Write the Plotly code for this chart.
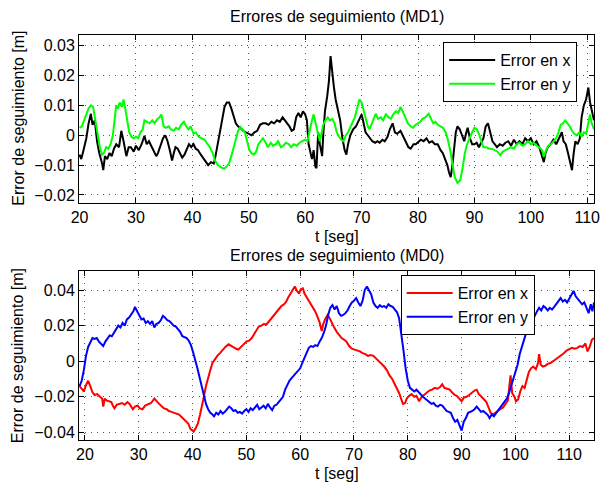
import plotly.graph_objects as go

# ---------------- MD1 tracking errors (top panel) ----------------
t_md1_x = [20.0, 20.3, 20.7, 21.2, 21.6, 22.0, 22.3, 22.7, 23.1, 23.5, 24.0, 24.2, 24.5, 24.9, 25.3, 25.7,
           26.1, 26.5, 27.0, 27.4, 27.8, 28.3, 28.7, 29.1, 29.6, 30.0, 30.5, 31.0, 31.5, 31.9, 32.3, 32.8,
           33.2, 33.6, 33.9, 34.4, 34.8, 35.2, 35.6, 36.0, 36.4, 36.7, 37.0, 37.4, 37.8, 38.2, 38.6, 39.0,
           39.4, 39.8, 40.2, 40.6, 41.0, 41.5, 42.0, 42.4, 42.8, 43.3, 43.8, 44.1, 44.5, 44.9, 45.3, 45.7,
           46.1, 46.5, 46.9, 47.3, 47.7, 48.1, 48.5, 49.0, 49.5, 50.0, 50.5, 51.0, 51.5, 52.0, 52.5, 53.0,
           53.5, 54.0, 54.5, 55.0, 55.5, 56.0, 56.4, 56.8, 57.2, 57.6, 58.0, 58.4, 58.8, 59.2, 59.6, 60.0,
           60.3, 60.6, 60.9, 61.2, 61.5, 61.8, 62.0, 62.3, 62.6, 63.0, 63.2, 63.5, 63.9, 64.2, 64.5, 64.8,
           65.1, 65.4, 65.8, 66.2, 66.6, 67.0, 67.3, 67.6, 68.0, 68.5, 69.0, 69.5, 70.0, 70.3, 70.7, 71.1,
           71.5, 71.9, 72.4, 72.8, 73.2, 73.7, 74.1, 74.6, 75.0, 75.5, 75.9, 76.3, 76.9, 77.4, 77.8, 78.3,
           78.7, 79.2, 79.6, 80.1, 80.5, 81.0, 81.5, 82.0, 82.5, 83.0, 83.5, 84.0, 84.4, 84.8, 85.2, 85.5,
           85.8, 86.1, 86.4, 86.7, 87.0, 87.4, 87.8, 88.2, 88.5, 88.8, 89.2, 89.6, 90.0, 90.4, 90.8, 91.2,
           91.6, 92.0, 92.4, 92.8, 93.2, 93.6, 94.0, 94.5, 95.0, 95.5, 96.0, 96.5, 97.0, 97.5, 98.0, 98.5,
           99.0, 99.5, 100.0, 100.5, 101.0, 101.5, 102.0, 102.3, 102.6, 103.0, 103.5, 104.0, 104.5, 105.0,
           105.5, 105.8, 106.2, 106.6, 107.0, 107.3, 107.6, 107.9, 108.3, 108.7, 109.0, 109.4, 109.8, 110.2,
           110.5, 110.8, 111.2]
e_md1_x = [-0.0065, -0.0080, -0.0050, -0.0010, 0.0040, 0.0072, 0.0035, 0.0050, -0.0020, -0.0060, -0.0095,
           -0.0117, -0.0070, -0.0080, -0.0060, -0.0070, -0.0045, -0.0030, -0.0040, 0.0015, -0.0020, -0.0070,
           -0.0040, -0.0040, -0.0055, -0.0035, -0.0050, -0.0030, -0.0002, -0.0030, -0.0020, -0.0040, -0.0055,
           -0.0070, -0.0060, -0.0030, -0.0010, 0.0000, -0.0020, -0.0050, -0.0085, -0.0060, -0.0040, -0.0045,
           -0.0060, -0.0075, -0.0065, -0.0045, -0.0030, -0.0040, -0.0030, -0.0045, -0.0050, -0.0065, -0.0080,
           -0.0090, -0.0100, -0.0090, -0.0095, -0.0070, -0.0030, 0.0020, 0.0060, 0.0095, 0.0110, 0.0110,
           0.0090, 0.0060, 0.0040, 0.0030, 0.0025, 0.0015, 0.0010, 0.0005, 0.0000, 0.0010, 0.0015, 0.0035,
           0.0040, 0.0040, 0.0035, 0.0045, 0.0040, 0.0050, 0.0045, 0.0060, 0.0050, 0.0040, 0.0030, 0.0015,
           0.0020, 0.0060, 0.0075, 0.0060, 0.0080, 0.0070, 0.0050, -0.0030, -0.0060, -0.0080, -0.0050,
           -0.0105, -0.0110, 0.0010, -0.0030, -0.0070, 0.0000, 0.0080, 0.0130, 0.0180, 0.0265, 0.0200,
           0.0160, 0.0120, 0.0080, 0.0050, -0.0010, -0.0050, -0.0065, -0.0030, 0.0000, 0.0020, 0.0030,
           0.0050, 0.0070, 0.0045, 0.0010, 0.0000, -0.0010, -0.0020, -0.0025, -0.0020, -0.0025, -0.0015,
           -0.0020, -0.0005, 0.0020, 0.0040, 0.0010, 0.0005, 0.0015, -0.0005, -0.0020, -0.0040, -0.0045,
           -0.0030, -0.0030, -0.0020, -0.0015, -0.0020, -0.0010, -0.0025, -0.0020, -0.0030, -0.0030, -0.0050,
           -0.0060, -0.0080, -0.0100, -0.0125, -0.0140, -0.0100, -0.0050, 0.0010, 0.0030, 0.0020, 0.0000,
           -0.0020, 0.0005, 0.0025, -0.0010, -0.0030, -0.0030, -0.0025, -0.0040, -0.0025, -0.0010, 0.0030,
           0.0040, 0.0010, -0.0020, -0.0030, -0.0040, -0.0030, -0.0035, -0.0025, -0.0020, -0.0035, -0.0015,
           -0.0030, -0.0020, -0.0030, -0.0010, -0.0020, -0.0010, -0.0030, -0.0020, -0.0040, -0.0070, -0.0090,
           -0.0060, -0.0040, -0.0030, -0.0015, -0.0030, -0.0010, 0.0010, -0.0020, -0.0030, -0.0060, -0.0090,
           -0.0117, -0.0060, -0.0020, -0.0030, -0.0010, 0.0060, 0.0100, 0.0120, 0.0160, 0.0110, 0.0080, 0.0050]

t_md1_y = [20.0, 20.4, 20.8, 21.2, 21.6, 22.0, 22.4, 22.8, 23.2, 23.6, 24.0, 24.3, 24.7, 25.1, 25.5, 25.9,
           26.2, 26.5, 26.8, 27.1, 27.5, 27.8, 28.1, 28.4, 28.8, 29.2, 29.6, 30.0, 30.4, 30.8, 31.2, 31.5,
           32.0, 32.4, 32.9, 33.3, 33.8, 34.2, 34.5, 34.9, 35.3, 35.8, 36.2, 36.7, 37.1, 37.6, 38.0, 38.5,
           38.9, 39.3, 39.7, 40.2, 40.6, 41.1, 41.6, 42.2, 42.7, 43.1, 43.6, 44.0, 44.5, 44.9, 45.3, 45.7,
           46.1, 46.5, 46.9, 47.3, 47.7, 48.1, 48.5, 48.9, 49.3, 49.7, 50.1, 50.5, 50.9, 51.3, 51.7, 52.1,
           52.5, 53.0, 53.4, 53.9, 54.3, 54.8, 55.2, 55.7, 56.1, 56.6, 57.1, 57.5, 58.0, 58.5, 59.0, 59.5,
           60.0, 60.4, 60.8, 61.2, 61.5, 61.9, 62.2, 62.6, 62.9, 63.2, 63.6, 64.0, 64.4, 64.8, 65.2, 65.6,
           66.0, 66.4, 66.8, 67.2, 67.6, 68.0, 68.4, 68.8, 69.2, 69.6, 70.0, 70.4, 70.8, 71.1, 71.4, 71.8,
           72.2, 72.5, 72.9, 73.4, 73.8, 74.3, 74.8, 75.2, 75.6, 76.1, 76.5, 76.9, 77.3, 77.8, 78.2, 78.7,
           79.1, 79.6, 80.0, 80.4, 80.8, 81.3, 81.9, 82.3, 82.7, 83.1, 83.5, 84.0, 84.4, 84.9, 85.3, 85.7,
           86.1, 86.5, 87.0, 87.5, 87.9, 88.3, 88.7, 89.1, 89.6, 90.0, 90.4, 90.8, 91.2, 91.6, 92.1, 92.6,
           93.1, 93.6, 94.1, 94.6, 95.0, 95.5, 96.0, 96.5, 97.0, 97.5, 98.0, 98.5, 99.0, 99.5, 100.0, 100.5,
           101.0, 101.5, 102.0, 102.3, 102.7, 103.1, 103.6, 104.0, 104.5, 104.9, 105.3, 105.7, 106.1, 106.5,
           106.9, 107.3, 107.7, 108.1, 108.6, 109.0, 109.4, 109.8, 110.2, 110.5, 110.8, 111.2]
e_md1_y = [0.0025, 0.0030, 0.0050, 0.0070, 0.0090, 0.0100, 0.0095, 0.0050, 0.0000, -0.0040, -0.0065,
           -0.0060, -0.0040, -0.0045, -0.0030, 0.0000, 0.0050, 0.0100, 0.0090, 0.0110, 0.0095, 0.0120,
           0.0090, 0.0050, 0.0010, -0.0005, -0.0010, -0.0005, -0.0010, 0.0010, 0.0020, 0.0050, 0.0045,
           0.0040, 0.0050, 0.0040, 0.0055, 0.0060, 0.0070, 0.0030, 0.0025, 0.0030, 0.0020, 0.0015, 0.0025,
           0.0020, 0.0035, 0.0045, 0.0030, 0.0020, 0.0030, 0.0005, 0.0010, -0.0005, -0.0010, -0.0015,
           -0.0030, -0.0040, -0.0060, -0.0085, -0.0100, -0.0105, -0.0110, -0.0112, -0.0105, -0.0095,
           -0.0070, -0.0040, -0.0010, 0.0015, 0.0028, 0.0020, 0.0010, -0.0020, -0.0050, -0.0060, -0.0065,
           -0.0055, -0.0030, -0.0020, -0.0010, -0.0025, -0.0040, -0.0025, -0.0035, -0.0030, -0.0020,
           -0.0040, -0.0035, -0.0025, -0.0030, -0.0040, -0.0030, -0.0035, -0.0025, -0.0020, -0.0015,
           -0.0020, 0.0020, 0.0050, 0.0070, 0.0030, 0.0010, -0.0020, 0.0010, 0.0035, 0.0050, 0.0060,
           0.0050, 0.0055, 0.0040, 0.0010, -0.0005, -0.0015, -0.0020, 0.0000, 0.0010, 0.0025, 0.0045,
           0.0060, 0.0090, 0.0120, 0.0110, 0.0080, 0.0055, 0.0030, 0.0020, 0.0040, 0.0060, 0.0072, 0.0055,
           0.0060, 0.0050, 0.0070, 0.0060, 0.0055, 0.0070, 0.0080, 0.0075, 0.0095, 0.0080, 0.0055, 0.0040,
           0.0030, 0.0025, 0.0035, 0.0040, 0.0045, 0.0055, 0.0060, 0.0072, 0.0055, 0.0040, 0.0045, 0.0035,
           0.0030, 0.0025, 0.0010, -0.0015, -0.0050, -0.0090, -0.0140, -0.0160, -0.0150, -0.0110, -0.0060,
           -0.0030, -0.0010, 0.0010, 0.0025, 0.0020, 0.0005, -0.0020, -0.0040, -0.0040, -0.0045, -0.0045,
           -0.0050, -0.0055, -0.0067, -0.0055, -0.0050, -0.0045, -0.0040, -0.0045, -0.0030, -0.0025,
           -0.0035, -0.0030, -0.0020, -0.0030, -0.0025, -0.0035, -0.0040, -0.0050, -0.0072, -0.0050,
           -0.0035, -0.0030, -0.0020, -0.0010, 0.0010, 0.0035, 0.0040, 0.0050, 0.0040, 0.0030, 0.0015,
           0.0005, 0.0000, 0.0010, -0.0005, 0.0010, 0.0005, 0.0040, 0.0070, 0.0040, 0.0020]

# ---------------- MD0 tracking errors (bottom panel) ----------------
t_md0_x = [19.0, 19.4, 19.8, 20.2, 20.6, 21.0, 21.4, 21.8, 22.3, 22.8, 23.2, 23.4, 23.7, 24.0, 24.4, 24.9,
           25.2, 25.5, 25.9, 26.4, 26.9, 27.4, 27.9, 28.3, 28.9, 29.3, 29.8, 30.2, 30.7, 31.2, 31.7, 32.3,
           32.9, 33.3, 33.8, 34.3, 34.7, 35.2, 35.6, 36.1, 36.6, 37.0, 37.5, 38.0, 38.4, 38.8, 39.2, 39.6,
           39.9, 40.2, 40.6, 41.0, 41.4, 41.8, 42.1, 42.5, 42.9, 43.3, 43.7, 44.1, 44.6, 45.1, 45.6, 46.1,
           46.7, 47.2, 47.6, 48.1, 48.5, 49.0, 49.5, 50.0, 50.5, 51.0, 51.4, 51.9, 52.3, 52.8, 53.3, 53.7,
           54.2, 54.7, 55.1, 55.6, 56.0, 56.5, 57.0, 57.4, 57.8, 58.2, 58.6, 59.0, 59.4, 59.8, 60.1, 60.5,
           60.8, 61.2, 61.6, 62.0, 62.4, 62.8, 63.2, 63.6, 64.0, 64.3, 64.7, 65.1, 65.5, 65.9, 66.3, 66.8,
           67.2, 67.7, 68.2, 68.6, 69.1, 69.6, 70.1, 70.6, 71.1, 71.6, 72.1, 72.6, 73.1, 73.6, 74.1, 74.6,
           75.1, 75.6, 76.1, 76.6, 77.1, 77.6, 78.0, 78.4, 78.8, 79.1, 79.5, 79.8, 80.2, 80.7, 81.2, 81.6,
           82.1, 82.6, 83.0, 83.5, 84.0, 84.5, 85.0, 85.5, 86.0, 86.4, 86.8, 87.3, 87.8, 88.2, 88.7, 89.1,
           89.6, 90.0, 90.4, 90.9, 91.4, 91.9, 92.4, 92.8, 93.2, 93.7, 94.2, 94.6, 95.0, 95.4, 95.8, 96.2,
           96.7, 97.2, 97.7, 98.2, 98.6, 98.9, 99.1, 99.4, 99.8, 100.1, 100.5, 100.9, 101.3, 101.7, 102.1,
           102.5, 102.9, 103.3, 103.8, 104.2, 104.4, 104.7, 105.1, 105.6, 106.0, 106.5, 107.0, 107.5, 108.0,
           108.5, 109.0, 109.5, 110.0, 110.5, 111.0, 111.5, 112.0, 112.5, 113.0, 113.4, 113.8, 114.2, 114.6]
e_md0_x = [-0.0140, -0.0155, -0.0170, -0.0135, -0.0110, -0.0140, -0.0175, -0.0190, -0.0185, -0.0200,
           -0.0210, -0.0255, -0.0210, -0.0220, -0.0225, -0.0230, -0.0250, -0.0265, -0.0245, -0.0240,
           -0.0235, -0.0245, -0.0230, -0.0240, -0.0270, -0.0255, -0.0250, -0.0265, -0.0270, -0.0250,
           -0.0245, -0.0235, -0.0210, -0.0225, -0.0240, -0.0255, -0.0265, -0.0270, -0.0280, -0.0285,
           -0.0290, -0.0295, -0.0300, -0.0315, -0.0325, -0.0340, -0.0350, -0.0380, -0.0390, -0.0395,
           -0.0375, -0.0350, -0.0300, -0.0250, -0.0200, -0.0140, -0.0090, -0.0050, -0.0010, 0.0010,
           0.0030, 0.0045, 0.0065, 0.0080, 0.0095, 0.0085, 0.0080, 0.0070, 0.0065, 0.0080, 0.0100,
           0.0110, 0.0115, 0.0130, 0.0150, 0.0180, 0.0195, 0.0200, 0.0210, 0.0205, 0.0225, 0.0240,
           0.0255, 0.0275, 0.0295, 0.0310, 0.0320, 0.0335, 0.0360, 0.0380, 0.0395, 0.0420, 0.0395,
           0.0380, 0.0405, 0.0410, 0.0380, 0.0360, 0.0345, 0.0320, 0.0300, 0.0280, 0.0250, 0.0220,
           0.0170, 0.0210, 0.0240, 0.0260, 0.0240, 0.0210, 0.0190, 0.0165, 0.0150, 0.0130, 0.0120,
           0.0110, 0.0085, 0.0070, 0.0065, 0.0060, 0.0055, 0.0045, 0.0040, 0.0030, 0.0035, 0.0030,
           0.0015, 0.0000, -0.0010, -0.0030, -0.0050, -0.0080, -0.0100, -0.0130, -0.0160, -0.0180,
           -0.0215, -0.0240, -0.0235, -0.0210, -0.0195, -0.0185, -0.0200, -0.0195, -0.0225, -0.0200,
           -0.0190, -0.0175, -0.0165, -0.0160, -0.0150, -0.0155, -0.0145, -0.0130, -0.0150, -0.0155,
           -0.0160, -0.0175, -0.0190, -0.0195, -0.0210, -0.0225, -0.0205, -0.0200, -0.0190, -0.0175,
           -0.0165, -0.0160, -0.0185, -0.0200, -0.0215, -0.0230, -0.0260, -0.0290, -0.0300, -0.0290,
           -0.0280, -0.0270, -0.0260, -0.0240, -0.0220, -0.0130, -0.0080, -0.0180, -0.0200, -0.0225,
           -0.0215, -0.0170, -0.0140, -0.0150, -0.0100, -0.0060, -0.0040, -0.0030, -0.0045, -0.0010,
           0.0040, -0.0020, -0.0030, -0.0025, -0.0015, -0.0010, 0.0000, 0.0010, 0.0020, 0.0030, 0.0045,
           0.0060, 0.0070, 0.0075, 0.0070, 0.0075, 0.0085, 0.0080, 0.0100, 0.0055, 0.0080, 0.0120, 0.0130]

t_md0_y = [19.0, 19.4, 19.8, 20.2, 20.6, 21.0, 21.4, 21.8, 22.2, 22.6, 23.0, 23.4, 23.8, 24.2, 24.6, 25.0,
           25.4, 25.8, 26.2, 26.6, 27.0, 27.4, 27.8, 28.2, 28.6, 29.0, 29.3, 29.7, 30.1, 30.5, 30.9, 31.3,
           31.7, 32.1, 32.5, 32.9, 33.3, 33.7, 34.1, 34.5, 34.9, 35.3, 35.7, 36.1, 36.5, 36.9, 37.3, 37.7,
           38.1, 38.5, 38.9, 39.3, 39.7, 40.1, 40.5, 40.9, 41.3, 41.7, 42.1, 42.5, 42.9, 43.3, 43.7, 44.0,
           44.4, 44.8, 45.2, 45.6, 46.0, 46.4, 46.8, 47.2, 47.6, 48.0, 48.4, 48.8, 49.2, 49.6, 50.0, 50.4,
           50.8, 51.2, 51.6, 52.0, 52.4, 52.8, 53.2, 53.6, 54.0, 54.4, 54.8, 55.2, 55.6, 56.0, 56.4, 56.8,
           57.2, 57.6, 58.0, 58.4, 58.8, 59.2, 59.6, 60.0, 60.4, 60.8, 61.2, 61.6, 62.0, 62.4, 62.8, 63.2,
           63.6, 64.0, 64.4, 64.8, 65.2, 65.6, 66.0, 66.4, 66.8, 67.2, 67.6, 68.0, 68.4, 68.8, 69.2, 69.6,
           70.0, 70.4, 70.8, 71.2, 71.6, 72.0, 72.4, 72.8, 73.2, 73.6, 74.0, 74.4, 74.8, 75.2, 75.6, 76.0,
           76.4, 76.8, 77.2, 77.6, 78.0, 78.4, 78.8, 79.2, 79.6, 80.0, 80.4, 80.8, 81.2, 81.6, 82.0, 82.4,
           82.8, 83.2, 83.6, 84.0, 84.4, 84.8, 85.2, 85.6, 86.0, 86.4, 86.8, 87.2, 87.6, 88.0, 88.4, 88.8,
           89.2, 89.6, 90.0, 90.4, 90.8, 91.2, 91.6, 92.0, 92.4, 92.8, 93.2, 93.6, 94.0, 94.4, 94.8, 95.2,
           95.6, 96.0, 96.4, 96.8, 97.2, 97.6, 98.0, 98.4, 98.8, 99.2, 99.6, 100.0, 100.4, 100.8, 101.2,
           101.6, 102.0, 102.4, 102.8, 103.2, 103.6, 104.0, 104.4, 104.8, 105.2, 105.6, 106.0, 106.4, 106.8,
           107.2, 107.6, 108.0, 108.4, 108.8, 109.2, 109.6, 110.0, 110.4, 110.8, 111.2, 111.6, 112.0, 112.4,
           112.8, 113.2, 113.6, 114.0, 114.3, 114.6]
e_md0_y = [-0.0140, -0.0110, -0.0050, 0.0030, 0.0080, 0.0110, 0.0130, 0.0125, 0.0130, 0.0110, 0.0095,
           0.0085, 0.0110, 0.0130, 0.0145, 0.0140, 0.0160, 0.0175, 0.0200, 0.0190, 0.0215, 0.0200, 0.0235,
           0.0245, 0.0265, 0.0280, 0.0305, 0.0280, 0.0260, 0.0235, 0.0240, 0.0215, 0.0225, 0.0210, 0.0225,
           0.0190, 0.0210, 0.0215, 0.0230, 0.0255, 0.0245, 0.0230, 0.0225, 0.0210, 0.0200, 0.0195, 0.0180,
           0.0165, 0.0140, 0.0135, 0.0130, 0.0115, 0.0090, 0.0050, 0.0010, -0.0040, -0.0090, -0.0140,
           -0.0190, -0.0240, -0.0270, -0.0290, -0.0300, -0.0310, -0.0290, -0.0300, -0.0280, -0.0295,
           -0.0285, -0.0270, -0.0255, -0.0265, -0.0280, -0.0275, -0.0290, -0.0285, -0.0295, -0.0280,
           -0.0270, -0.0285, -0.0265, -0.0275, -0.0260, -0.0245, -0.0270, -0.0260, -0.0250, -0.0265,
           -0.0240, -0.0260, -0.0275, -0.0250, -0.0245, -0.0230, -0.0215, -0.0200, -0.0160, -0.0130,
           -0.0110, -0.0095, -0.0080, -0.0070, -0.0050, -0.0040, -0.0010, 0.0020, 0.0050, 0.0075, 0.0085,
           0.0080, 0.0090, 0.0085, 0.0110, 0.0130, 0.0160, 0.0200, 0.0260, 0.0300, 0.0315, 0.0290, 0.0310,
           0.0270, 0.0255, 0.0260, 0.0270, 0.0285, 0.0310, 0.0330, 0.0340, 0.0355, 0.0330, 0.0310, 0.0340,
           0.0400, 0.0420, 0.0395, 0.0375, 0.0330, 0.0310, 0.0300, 0.0315, 0.0305, 0.0310, 0.0300, 0.0320,
           0.0310, 0.0305, 0.0290, 0.0275, 0.0240, 0.0160, 0.0060, -0.0040, -0.0110, -0.0150, -0.0160,
           -0.0170, -0.0160, -0.0175, -0.0185, -0.0200, -0.0210, -0.0220, -0.0225, -0.0240, -0.0235,
           -0.0250, -0.0255, -0.0245, -0.0250, -0.0265, -0.0280, -0.0285, -0.0290, -0.0320, -0.0340,
           -0.0330, -0.0360, -0.0390, -0.0340, -0.0320, -0.0290, -0.0285, -0.0280, -0.0270, -0.0255,
           -0.0270, -0.0285, -0.0280, -0.0290, -0.0300, -0.0320, -0.0300, -0.0310, -0.0290, -0.0275,
           -0.0260, -0.0245, -0.0230, -0.0210, -0.0180, -0.0140, -0.0110, -0.0060, -0.0020, 0.0040,
           0.0080, 0.0130, 0.0170, 0.0200, 0.0210, 0.0230, 0.0255, 0.0280, 0.0300, 0.0285, 0.0310, 0.0300,
           0.0285, 0.0300, 0.0290, 0.0305, 0.0320, 0.0340, 0.0355, 0.0335, 0.0345, 0.0330, 0.0350, 0.0370,
           0.0395, 0.0365, 0.0350, 0.0340, 0.0320, 0.0330, 0.0300, 0.0270, 0.0320, 0.0280, 0.0330]

x_ticks = [20, 30, 40, 50, 60, 70, 80, 90, 100, 110]
y_ticks_md1 = [-0.02, -0.01, 0, 0.01, 0.02, 0.03]
y_ticks_md1_text = ["\u22120.02", "\u22120.01", "0", "0.01", "0.02", "0.03"]
y_ticks_md0 = [-0.04, -0.02, 0, 0.02, 0.04]
y_ticks_md0_text = ["\u22120.04", "\u22120.02", "0", "0.02", "0.04"]

FONT = "Liberation Sans, Arial, Helvetica, sans-serif"
W, H = 603, 485
ML, MR, MT, MB = 79, 3, 35, 45
PW, PH = W - ML - MR, H - MT - MB


def px_x(px):
    return (px - ML) / PW


def px_y(py):
    return (H - MB - py) / PH


LW = 2.0
fig = go.Figure()
fig.add_trace(go.Scatter(x=t_md1_x, y=e_md1_x, mode="lines", name="Error en x",
                         line=dict(color="#000000", width=LW), xaxis="x", yaxis="y", legend="legend"))
fig.add_trace(go.Scatter(x=t_md1_y, y=e_md1_y, mode="lines", name="Error en y",
                         line=dict(color="#00ff00", width=LW), xaxis="x", yaxis="y", legend="legend"))
fig.add_trace(go.Scatter(x=t_md0_x, y=e_md0_x, mode="lines", name="Error en x",
                         line=dict(color="#ff0000", width=LW), xaxis="x2", yaxis="y2", legend="legend2"))
fig.add_trace(go.Scatter(x=t_md0_y, y=e_md0_y, mode="lines", name="Error en y",
                         line=dict(color="#0000ff", width=LW), xaxis="x2", yaxis="y2", legend="legend2"))

axis_common = dict(
    showline=True, linecolor="black", linewidth=1, mirror="ticks",
    ticks="inside", ticklen=5, tickcolor="black", tickwidth=1,
    showgrid=True, gridcolor="rgba(60,60,60,0.85)", gridwidth=1, griddash="1px,5px",
    zeroline=False, tickfont=dict(family=FONT, size=16, color="black"),
)

top_dom = [px_y(203), 1.0]
bot_dom = [0.0, px_y(271)]

fig.update_layout(
    width=W, height=H,
    margin=dict(l=ML, r=MR, t=MT, b=MB),
    paper_bgcolor="white", plot_bgcolor="white",
    font=dict(family=FONT, size=16, color="black"),
    xaxis=dict(axis_common, domain=[0, 1], range=[19.9, 111.2], tickvals=x_ticks, anchor="y",
               ticklabeloverflow="allow"),
    yaxis=dict(axis_common, domain=top_dom, range=[-0.0227, 0.0336], tickvals=y_ticks_md1,
               ticktext=y_ticks_md1_text, anchor="x"),
    xaxis2=dict(axis_common, domain=[0, 1], range=[18.9, 114.6], tickvals=x_ticks, anchor="y2",
                ticklabeloverflow="allow"),
    yaxis2=dict(axis_common, domain=bot_dom, range=[-0.0443, 0.0507], tickvals=y_ticks_md0,
                ticktext=y_ticks_md0_text, anchor="x2"),
    legend=dict(x=px_x(583), y=px_y(42), xanchor="right", yanchor="top",
                bgcolor="white", bordercolor="black", borderwidth=1, itemwidth=46,
                font=dict(family=FONT, size=16, color="black"), tracegroupgap=0),
    legend2=dict(x=px_x(540), y=px_y(275), xanchor="right", yanchor="top",
                 bgcolor="white", bordercolor="black", borderwidth=1, itemwidth=46,
                 font=dict(family=FONT, size=16, color="black"), tracegroupgap=0),
    showlegend=True,
)

# Panel titles and axis labels
labels = [
    ("Errores de seguimiento (MD1)", 339.5, 17, 0),
    ("Errores de seguimiento (MD0)", 339.5, 255, 0),
    ("t [seg]", 339.5, 236, 0),
    ("t [seg]", 339.5, 473, 0),
    ("Error de seguimiento [m]", 17, 118, -90),
    ("Error de seguimiento [m]", 17, 355.5, -90),
]
for text, ax_px, ay_px, ang in labels:
    fig.add_annotation(text=text, x=px_x(ax_px), y=px_y(ay_px), xref="paper", yref="paper",
                       showarrow=False, xanchor="center", yanchor="middle", textangle=ang,
                       font=dict(family=FONT, size=16, color="black"))

fig.write_html("out.html")
